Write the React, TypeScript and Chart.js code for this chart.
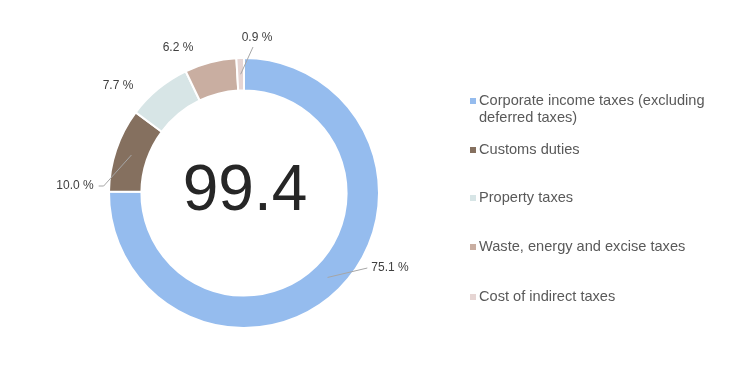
import React, { useEffect, useRef } from "react";
import { Chart, registerables } from "chart.js";

Chart.register(...registerables);

const categories = [
  "Corporate income taxes (excluding deferred taxes)",
  "Customs duties",
  "Property taxes",
  "Waste, energy and excise taxes",
  "Cost of indirect taxes",
];
const shares = [75.1, 10.0, 7.7, 6.2, 0.9];
const colors = ["#95BCEE", "#85705F", "#D7E5E6", "#C9AEA1", "#E6D5D3"];
const centerValue = "99.4";

// label placement relative to donut centre (layout, not data)
const labelLayout = [
  { dx: 146, dy: 75, line: "left" },
  { dx: -169, dy: -7, line: "right" },
  { dx: -126, dy: -107, line: "none" },
  { dx: -66, dy: -145, line: "none" },
  { dx: 13, dy: -155, line: "below" },
];
const legendYs = [101, 150, 198, 247, 297];

const FONT = "'Liberation Sans', Arial, sans-serif";

const overlay = {
  id: "overlay",
  afterDraw(chart: any) {
    const ctx = chart.ctx as CanvasRenderingContext2D;
    const meta = chart.getDatasetMeta(0);
    const arcs = meta.data as any[];
    if (!arcs.length) return;
    const cx = arcs[0].x;
    const cy = arcs[0].y;
    ctx.save();
    // centre value
    ctx.fillStyle = "#262626";
    ctx.font = `64px ${FONT}`;
    ctx.textAlign = "center";
    ctx.textBaseline = "middle";
    ctx.fillText(centerValue, cx + 1, cy - 1);

    // data labels
    ctx.font = `12px ${FONT}`;
    arcs.forEach((arc, i) => {
      const mid = (arc.startAngle + arc.endAngle) / 2;
      const rMid = (arc.innerRadius + arc.outerRadius) / 2;
      const ax = cx + Math.cos(mid) * rMid;
      const ay = cy + Math.sin(mid) * rMid;
      const lay = labelLayout[i];
      const tx = cx + lay.dx;
      const ty = cy + lay.dy;
      const text = shares[i].toFixed(1) + " %";
      const w = ctx.measureText(text).width;
      if (lay.line !== "none") {
        ctx.strokeStyle = "#A6A6A6";
        ctx.lineWidth = 1;
        ctx.beginPath();
        ctx.moveTo(ax, ay);
        if (lay.line === "left") {
          ctx.lineTo(tx - w / 2 - 4, ty);
        } else if (lay.line === "right") {
          ctx.lineTo(tx + w / 2 + 10, ty);
          ctx.lineTo(tx + w / 2 + 5, ty);
        } else {
          ctx.lineTo(tx - 4, ty + 9);
        }
        ctx.stroke();
      }
      ctx.fillStyle = "#404040";
      ctx.textAlign = "center";
      ctx.textBaseline = "middle";
      ctx.fillText(text, tx, ty);
    });

    // legend
    const lx = 470;
    const maxW = 240;
    ctx.font = `14.6px ${FONT}`;
    ctx.textAlign = "left";
    ctx.textBaseline = "middle";
    categories.forEach((label, i) => {
      const y = legendYs[i];
      ctx.fillStyle = colors[i];
      ctx.fillRect(lx, y - 3, 6, 6);
      const words = label.split(" ");
      const lines: string[] = [];
      let cur = "";
      words.forEach((wd) => {
        const t = cur ? cur + " " + wd : wd;
        if (ctx.measureText(t).width > maxW && cur) {
          lines.push(cur);
          cur = wd;
        } else cur = t;
      });
      if (cur) lines.push(cur);
      ctx.fillStyle = "#595959";
      lines.forEach((ln, j) => ctx.fillText(ln, lx + 9, y + j * 17));
    });
    ctx.restore();
  },
};

export default function App() {
  const ref = useRef<HTMLCanvasElement>(null);
  useEffect(() => {
    if (!ref.current) return;
    const chart = new Chart(ref.current, {
      type: "doughnut",
      data: {
        labels: categories,
        datasets: [
          {
            data: shares,
            backgroundColor: colors,
            borderColor: "#ffffff",
            borderWidth: 2,
            hoverOffset: 0,
          },
        ],
      },
      options: {
        responsive: false,
        animation: false,
        cutout: "76%",
        layout: { padding: { left: 108, top: 57, right: 360, bottom: 43 } },
        plugins: {
          legend: { display: false },
          tooltip: { enabled: false },
        },
      },
      plugins: [overlay],
    });
    return () => chart.destroy();
  }, []);
  return (
    <div style={{ position: "fixed", left: 0, top: 0, width: 740, height: 372, background: "#fff" }}>
      <canvas ref={ref} width={740} height={372} />
    </div>
  );
}
